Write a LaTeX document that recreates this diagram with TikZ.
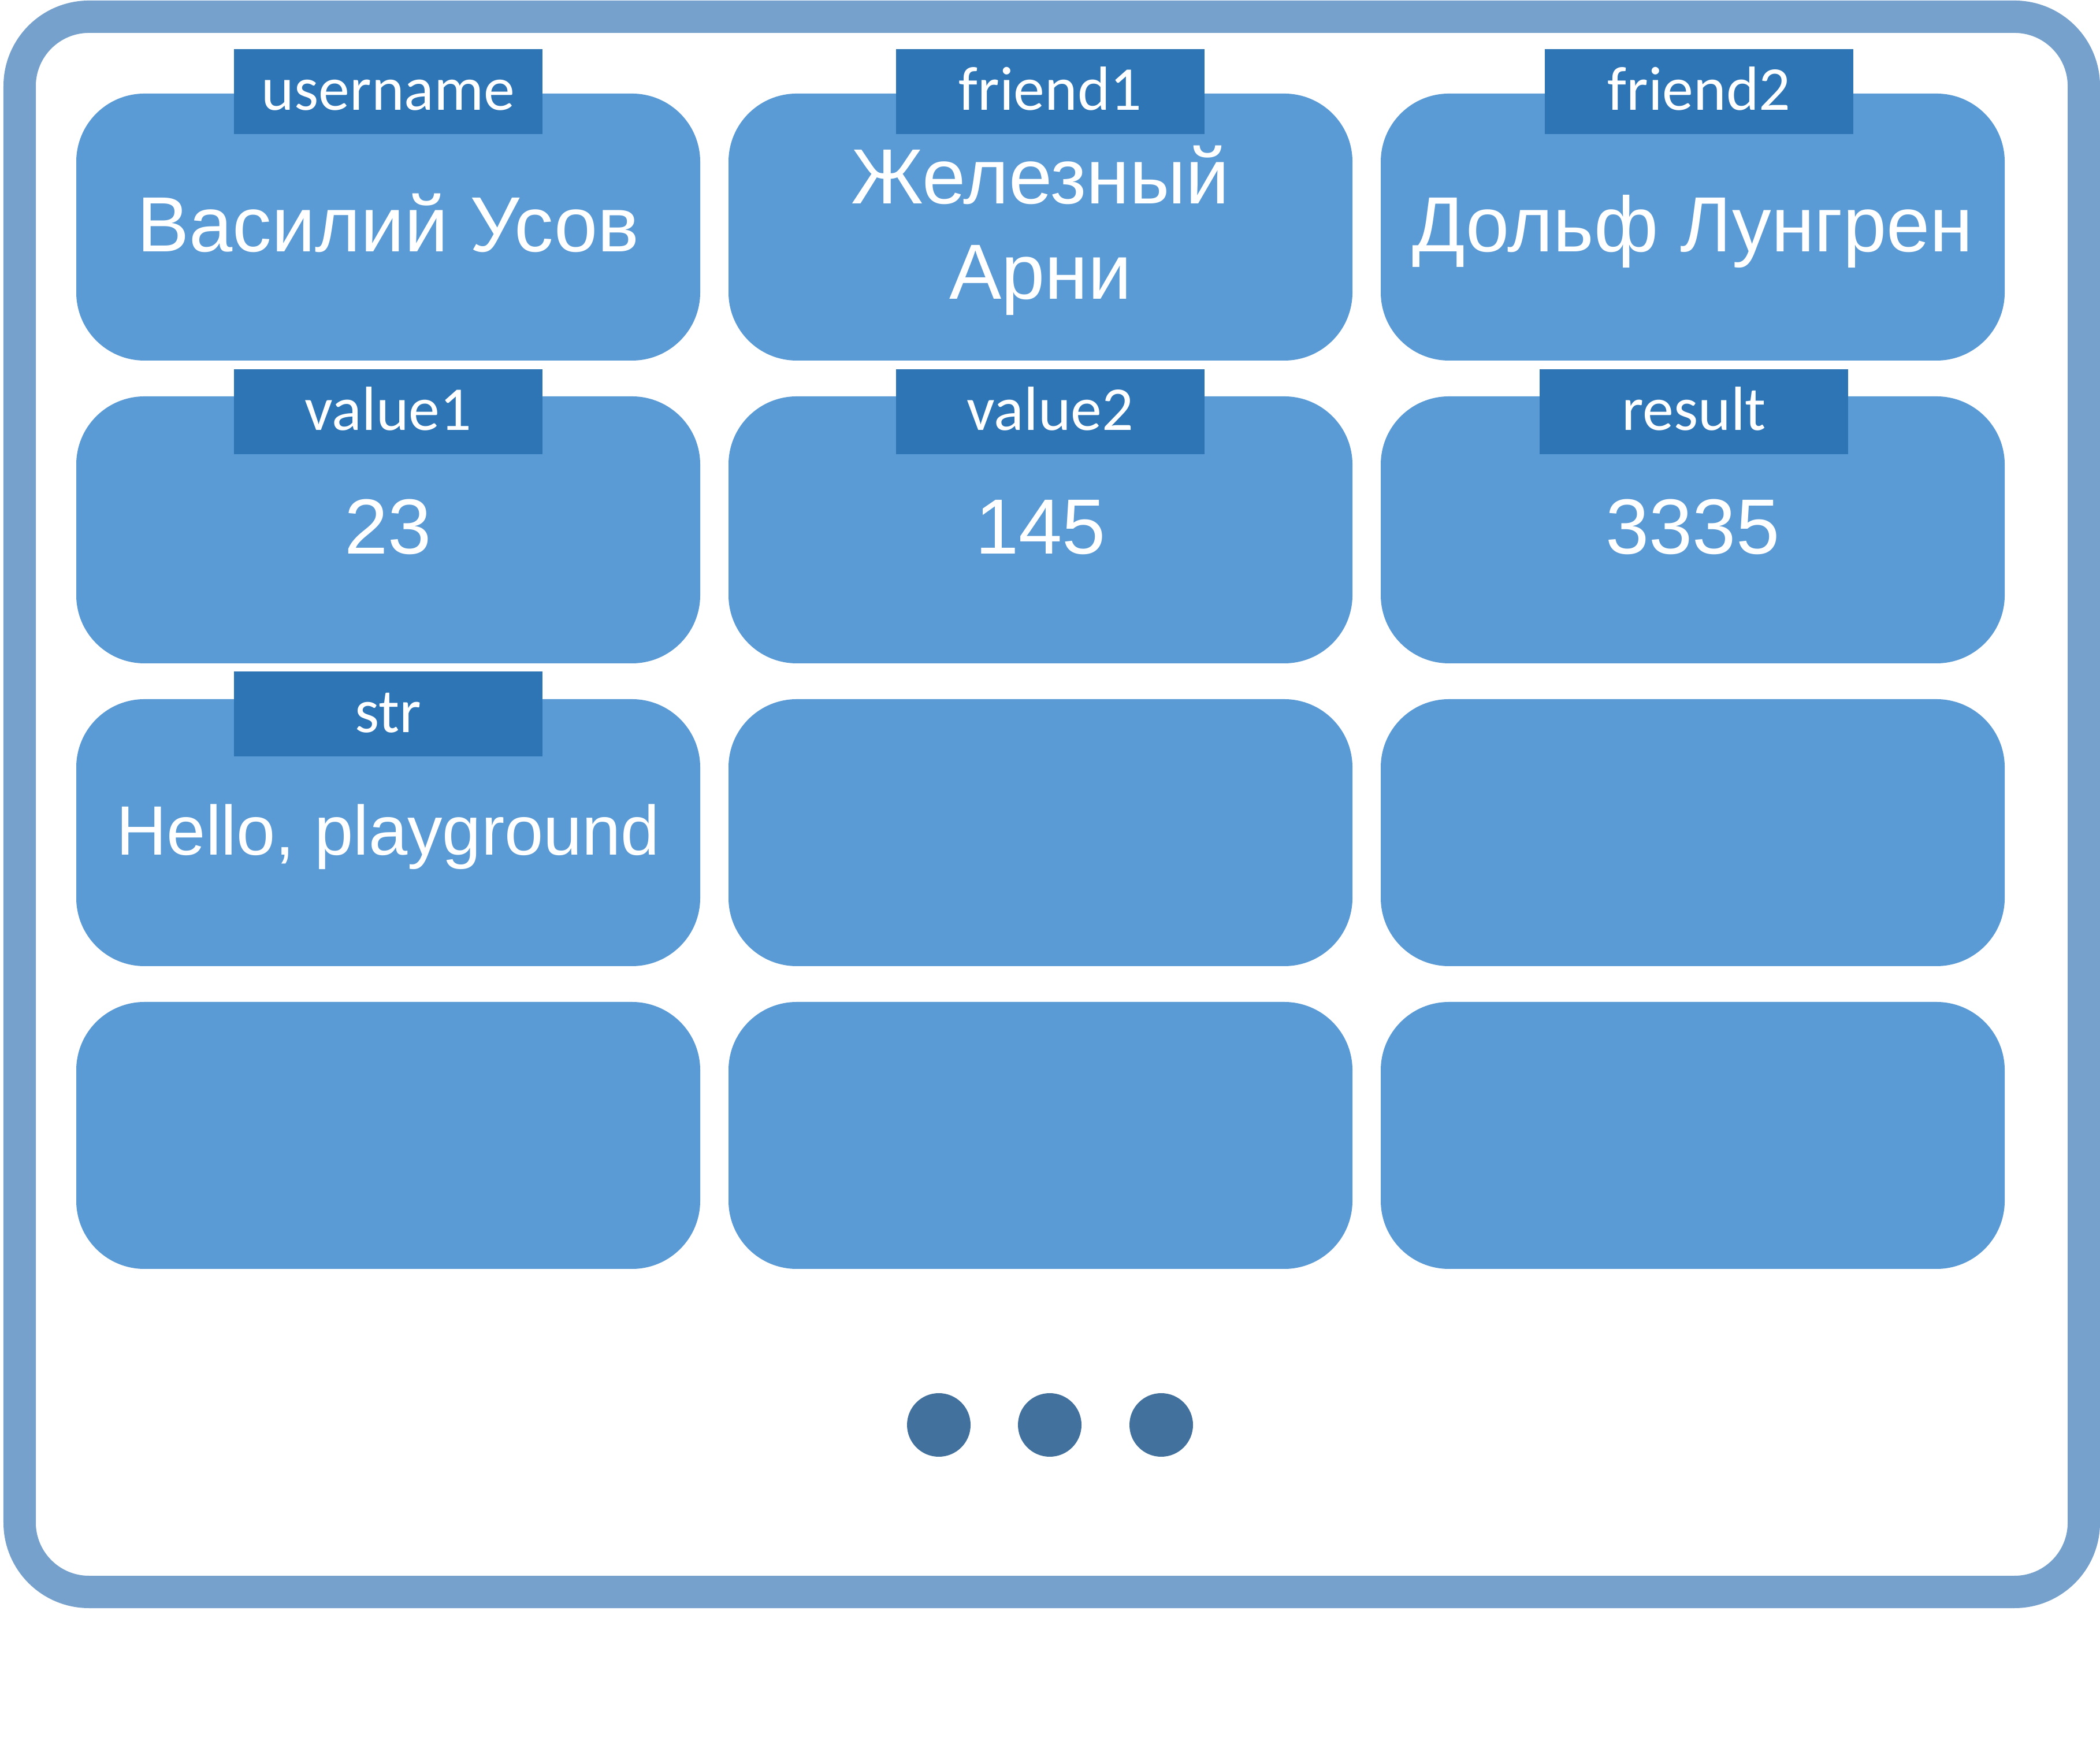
\documentclass[tikz,border=0pt]{standalone}
\usepackage{fontspec}
\setmainfont{Liberation Sans}
\newfontfamily\tagfont{Carlito}
\usepackage{tikz}
\usetikzlibrary{calc}
\definecolor{cellblue}{HTML}{5B9BD5}
\definecolor{tagblue}{HTML}{2E75B6}
\definecolor{boardblue}{HTML}{76A1CC}
\definecolor{dotblue}{HTML}{41719C}
\tikzset{cell/.style={fill=cellblue,rounded corners=1.18cm,minimum width=10.8cm,minimum height=4.62cm,inner sep=0pt},tag/.style={fill=tagblue,minimum width=5.34cm,minimum height=1.47cm,inner sep=0pt,text=white,font=\tagfont\fontsize{30.7}{36}\selectfont,text height=18.4pt,text depth=0pt},txt/.style={text=white,font=\fontsize{38.5}{47}\selectfont,align=center,inner sep=0pt},oneline/.style={text height=27.6pt,text depth=0pt}}

\begin{document}
\begin{tikzpicture}
\useasboundingbox (0,0) rectangle (36.35,30.31);
\node (board) at (18.205,16.39) [draw=boardblue,line width=0.56cm,rounded corners=1.2cm,minimum width=35.73cm,minimum height=27.26cm,inner sep=0pt] {};
\foreach \r in {1,2,3,4} {
\foreach \c in {1,2,3} {
\node (c\r\c) at (\c*11.29-4.57, 31.62-\r*5.24) [cell] {};
}
}
\node (username) at ($(c11.north)+(0,0.03)$) [tag] {username};
\node (friend1) at ($(c12.north)+(0.17,0.03)$) [tag] {friend1};
\node (friend2) at ($(c13.north)+(0.11,0.03)$) [tag] {friend2};
\node (value1) at ($(c21.north)+(0,-0.27)$) [tag] {value1};
\node (value2) at ($(c22.north)+(0.17,-0.27)$) [tag] {value2};
\node (result) at ($(c23.north)+(0.02,-0.27)$) [tag] {result};
\node (str) at ($(c31.north)+(0,-0.26)$) [tag] {str};
\node (vasily) at ($(c11.center)+(0,0.06)$) [txt,oneline] {Василий Усов};
\node (arni) at ($(c12.center)+(0,-0.06)$) [txt] {Железный\\Арни};
\node (dolph) at ($(c13.center)+(0,0.06)$) [txt,oneline] {Дольф Лунгрен};
\node (v1) at ($(c21.center)+(0,0.07)$) [txt,oneline] {23};
\node (v2) at ($(c22.center)+(0,0.07)$) [txt,oneline] {145};
\node (res) at ($(c23.center)+(0,0.07)$) [txt,oneline] {3335};
\node (hello) at ($(c31.center)+(0,0.05)$) [txt,oneline,font=\fontsize{34.4}{41}\selectfont,text height=24.6pt] {Hello, playground};
\foreach \d/\x in {1/16.25,2/18.17,3/20.10} {
\node (dot\d) at (\x,5.65) [circle,fill=dotblue,minimum size=1.1cm,inner sep=0pt] {};
}
\end{tikzpicture}
\end{document}
